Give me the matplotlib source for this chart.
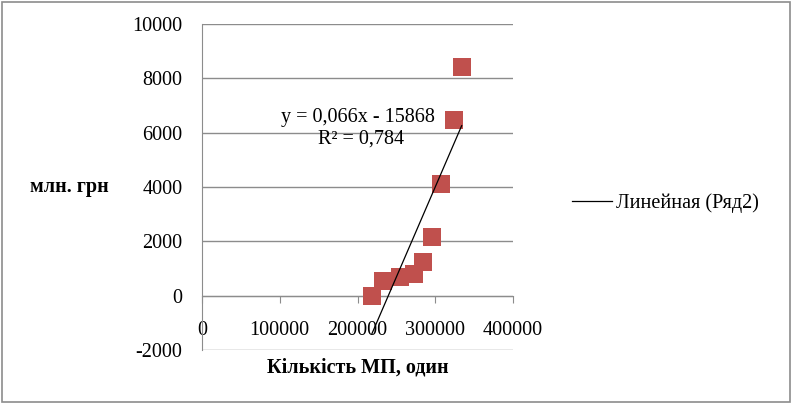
import matplotlib
matplotlib.use('Agg')
import matplotlib.pyplot as plt
import matplotlib.patches as mpatches
import numpy as np

plt.rcParams['font.family'] = ['Liberation Serif', 'DejaVu Serif']
plt.rcParams['font.size'] = 14.5

# data
mp_count = [218300, 233200, 254700, 272700, 283800, 295400, 307800, 324500, 334000]
mln_grn = [-25, 526, 674, 810, 1251, 2147, 4111, 6478, 8403]
y_ticks = [-2000, 0, 2000, 4000, 6000, 8000, 10000]
x_ticks = [0, 100000, 200000, 300000, 400000]

fig = plt.figure(figsize=(7.92, 4.04), dpi=100)
ax = fig.add_axes([202 / 792, 54 / 404, 311 / 792, 326 / 404])

# outer frame
fig.patches.append(mpatches.Rectangle((0.002, 0.004), 0.995, 0.99, transform=fig.transFigure,
                                      fill=False, edgecolor='#8c8c8c', linewidth=1.2))

ax.scatter(mp_count, mln_grn, marker='s', s=150, color='#C0504D', zorder=3, linewidths=0)

# linear trendline
k, b = np.polyfit(mp_count, mln_grn, 1)
xs = np.array([min(mp_count), max(mp_count)])
line, = ax.plot(xs, k * xs + b, color='black', linewidth=0.9, zorder=4)

ax.text(0.50, 0.713, 'y = 0,066x - 15868', transform=ax.transAxes, ha='center', va='center')
ax.text(0.51, 0.646, 'R² = 0,784', transform=ax.transAxes, ha='center', va='center')

ax.set_xlim(0, 400000)
ax.set_ylim(-2000, 10000)
ax.set_xticks(x_ticks)
ax.set_yticks(y_ticks)
ax.set_xticklabels([str(v) for v in x_ticks])
ax.set_yticklabels([str(v) for v in y_ticks])
ax.grid(axis='y', color='#8c8c8c', linewidth=1.0)
ax.set_axisbelow(True)

for s in ['top', 'right']:
    ax.spines[s].set_visible(False)
ax.spines['left'].set_color('#8c8c8c')
ax.spines['bottom'].set_color('#8c8c8c')
ax.spines['bottom'].set_position(('data', 0))
ax.tick_params(axis='x', length=5, color='#8c8c8c', pad=13)
ax.tick_params(axis='y', length=0, pad=14)

fig.text(30 / 792, 1 - 187 / 404, 'млн. грн', ha='left', va='center', fontweight='bold')
fig.text(358 / 792, 1 - 367 / 404, 'Кількість МП, один', ha='center', va='center', fontweight='bold')

fig.legend([line], ['Линейная (Ряд2)'], loc='center left', bbox_to_anchor=(572 / 792, 1 - 203 / 404),
           frameon=False, handlelength=2.0, handletextpad=0.2, borderpad=0, borderaxespad=0)

fig.savefig('out.png', dpi=100)
